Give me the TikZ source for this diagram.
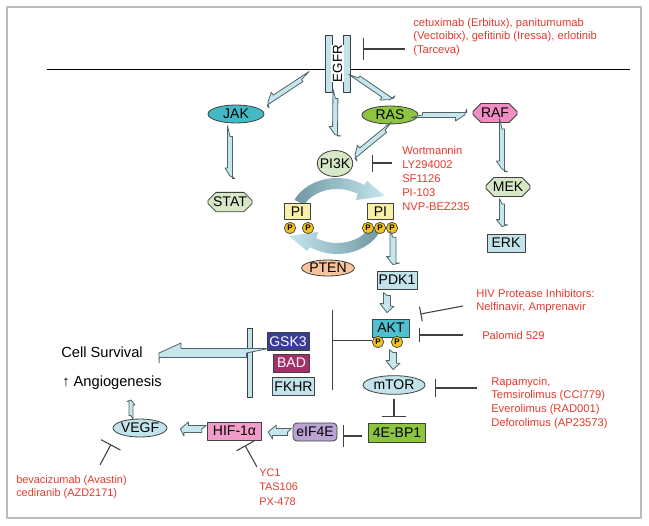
\documentclass[tikz,border=0pt]{standalone}
\usepackage{fontspec}
\setmainfont{Liberation Sans}
\usetikzlibrary{calc,shapes.geometric,shapes.misc,arrows.meta}

\definecolor{lightblue}{HTML}{C3E3EB}
\definecolor{arrowfill}{HTML}{C6E5EC}
\definecolor{arrowline}{HTML}{4F6469}
\definecolor{jakteal}{HTML}{43B9C6}
\definecolor{aktteal}{HTML}{4FC0D0}
\definecolor{palegreen}{HTML}{D6E8C6}
\definecolor{rasgreen}{HTML}{8DC540}
\definecolor{rafpink}{HTML}{F28DC3}
\definecolor{hifpink}{HTML}{F29CC9}
\definecolor{ptenorange}{HTML}{F6C59D}
\definecolor{eifpurple}{HTML}{BBA3D6}
\definecolor{gskblue}{HTML}{393B97}
\definecolor{badred}{HTML}{A53069}
\definecolor{piyellow}{HTML}{F8F0A6}
\definecolor{pyellow}{HTML}{F4C21A}
\definecolor{drugred}{HTML}{E23A2E}
\definecolor{cycdark}{HTML}{6F98A3}
\definecolor{cyclight}{HTML}{C6E6EE}
\definecolor{framegray}{HTML}{BBBBBB}

% holle blokpijl: van, naar, halve schachtbreedte, halve kopbreedte, koplengte
\newcommand{\blockarrow}[5]{%
  \filldraw[blockarr] let \p1=#1, \p2=#2,
      \n1={atan2(\y2-\y1,\x2-\x1)}, \n2={veclen(\x2-\x1,\y2-\y1)/0.75} in
    (\p1) -- ++({\n1+90}:#3) -- ++(\n1:{\n2-#5}) -- ++({\n1+90}:{#4-#3}) -- (\p2)
    -- ($(\p2)+({\n1+180}:#5)+({\n1-90}:#4)$) -- ++({\n1+90}:{#4-#3})
    -- ++({\n1+180}:{\n2-#5}) -- cycle;}

\begin{document}
\begin{tikzpicture}[x=0.75pt, y=0.75pt, line join=round,
    base/.style={draw=black!75, line width=0.6pt, inner sep=0pt, font=\fontsize{10.5}{12}\selectfont},
    oval/.style={base, ellipse},
    chamf/.style={base, chamfered rectangle, chamfered rectangle xsep=2.5pt},
    box/.style={base, rectangle},
    pball/.style={circle, draw=black!75, line width=0.5pt, fill=pyellow, minimum size=8.5pt,
      inner sep=0pt, font=\fontsize{6}{6}\selectfont\bfseries},
    drug/.style={text=drugred, align=left, anchor=west, inner sep=0pt, font=\fontsize{8.4}{10.4}\selectfont},
    inhib/.style={draw=black!75, line width=0.8pt, -{Bar[width=#1]}},
    inhib/.default=12pt,
    blockarr/.style={fill=arrowfill, draw=arrowline, line width=0.6pt}]

  % Kader en membraan
  \useasboundingbox (0,0) rectangle (649,-525);
  \draw[framegray, line width=0.8pt] (7,-7) rectangle (641,-518);
  \draw[line width=0.75pt] (47,-69) -- (630,-69);

  % Receptor
  \node[box, fill=lightblue, minimum width=5.25pt, minimum height=42.75pt] (egfrL) at (328.5,-63.5) {};
  \node[box, fill=lightblue, minimum width=5.25pt, minimum height=42.75pt] (egfrR) at (346.5,-63.5) {};
  \node[rotate=90, fill=white, inner xsep=0pt, inner ysep=1pt, font=\fontsize{10}{12}\selectfont] (egfr) at (337.5,-63.5) {EGFR};

  % Cyclus PI -> PIP3 (PI3K) en terug (PTEN)
  \coordinate (cyc) at (337,-216);
  \shade[left color=cycdark, right color=cyclight]
    ($(cyc)+(155:47 and 38)$) arc[start angle=155, end angle=55, x radius=47, y radius=38]
    -- ($(cyc)+(30,35)$) -- ($(cyc)+(48,20)$) -- ($(cyc)+(19,16)$)
    -- ($(cyc)+(55:36 and 27)$) arc[start angle=55, end angle=155, x radius=36, y radius=27] -- cycle;
  \shade[left color=cyclight, right color=cycdark]
    ($(cyc)+(-25:47 and 38)$) arc[start angle=-25, end angle=-125, x radius=47, y radius=38]
    -- ($(cyc)+(-30,-35)$) -- ($(cyc)+(-48,-20)$) -- ($(cyc)+(-19,-16)$)
    -- ($(cyc)+(-125:36 and 27)$) arc[start angle=-125, end angle=-25, x radius=36, y radius=27] -- cycle;

  % Eiwitten
  \node[oval, fill=jakteal, minimum width=42pt, minimum height=13.5pt] (jak) at (236,-114) {JAK};
  \node[chamf, fill=palegreen, minimum width=33pt, minimum height=12pt] (stat) at (230,-202) {STAT};
  \node[oval, fill=rasgreen, minimum width=42pt, minimum height=13.5pt] (ras) at (390,-115) {RAS};
  \node[chamf, fill=rafpink, minimum width=33pt, minimum height=13.5pt] (raf) at (495,-113) {RAF};
  \node[chamf, fill=palegreen, minimum width=33pt, minimum height=13.5pt] (mek) at (508,-187) {MEK};
  \node[box, fill=lightblue, minimum width=28.5pt, minimum height=13.5pt] (erk) at (506,-243) {ERK};
  \node[oval, fill=palegreen, minimum width=26pt, minimum height=19.5pt, inner xsep=-2pt] (pik) at (335,-163.5) {PI3K};
  \node[box, fill=piyellow, minimum width=19pt, minimum height=12pt] (pil) at (297.5,-211.5) {PI};
  \node[box, fill=piyellow, minimum width=19pt, minimum height=12pt] (pir) at (380.5,-211.5) {PI};
  \node[pball] (pl1) at (290,-228) {P};
  \node[pball] (pl2) at (308,-228) {P};
  \node[pball] (pr1) at (368,-228) {P};
  \node[pball] (pr2) at (380,-228) {P};
  \node[pball] (pr3) at (392,-228) {P};
  \node[oval, fill=ptenorange, minimum width=37.5pt, minimum height=12pt] (pten) at (328,-268) {PTEN};
  \node[box, fill=lightblue, minimum width=30pt, minimum height=13.5pt] (pdk) at (397,-280) {PDK1};
  \node[box, fill=aktteal, minimum width=28pt, minimum height=13.5pt] (akt) at (391,-328) {AKT};
  \node[pball] (ap1) at (378,-342) {P};
  \node[pball] (ap2) at (397,-342) {P};
  \node[oval, fill=lightblue, minimum width=46.5pt, minimum height=14pt] (mtor) at (394,-385) {mTOR};
  \node[box, fill=rasgreen, minimum width=43pt, minimum height=14pt] (bp) at (397,-433) {4E-BP1};
  \node[box, rounded corners=3pt, fill=eifpurple, minimum width=33pt, minimum height=13.5pt] (eif) at (315,-432) {eIF4E};
  \node[box, fill=hifpink, minimum width=41pt, minimum height=13.5pt] (hif) at (234.5,-431) {HIF-1α};
  \node[oval, fill=lightblue, minimum width=40.5pt, minimum height=13.5pt] (vegf) at (140,-428) {VEGF};
  \node[box, fill=gskblue, text=white, minimum width=31.5pt, minimum height=13.5pt] (gsk) at (288,-341.5) {GSK3};
  \node[box, fill=badred, text=white, minimum width=27pt, minimum height=13.5pt] (bad) at (291.5,-363) {BAD};
  \node[box, fill=lightblue, minimum width=32pt, minimum height=14pt] (fkhr) at (293.5,-386.5) {FKHR};
  \node[box, fill=lightblue, minimum width=3.75pt, minimum height=51.75pt] (survbar) at (249.5,-362.5) {};

  % Uitkomsten
  \node[anchor=west, inner sep=0pt, font=\fontsize{11}{13}\selectfont] (survival) at (61,-352) {Cell Survival};
  \node[anchor=west, inner sep=0pt, font=\fontsize{11}{13}\selectfont] (angio) at (62,-383) {↑ Angiogenesis};

  % Remmers (tekst)
  \node[drug] (egfrdrug) at (413,-37) {cetuximab (Erbitux), panitumumab\\(Vectoibix), gefitinib (Iressa), erlotinib\\(Tarceva)};
  \node[drug] (pidrug) at (402,-178.5) {Wortmannin\\LY294002\\SF1126\\PI-103\\NVP-BEZ235};
  \node[drug, font=\fontsize{8.4}{9.8}\selectfont] (hivdrug) at (476,-301.5) {HIV Protease Inhibitors:\\Nelfinavir, Amprenavir};
  \node[drug] (palomid) at (482,-335) {Palomid 529};
  \node[drug] (mtordrug) at (491,-403) {Rapamycin,\\Temsirolimus (CCI779)\\Everolimus (RAD001)\\Deforolimus (AP23573)};
  \node[drug, font=\fontsize{8.2}{10.8}\selectfont] (hifdrug) at (259,-487) {YC1\\TAS106\\PX-478};
  \node[drug, font=\fontsize{8.2}{9.5}\selectfont] (vegfdrug) at (16,-487) {bevacizumab (Avastin)\\cediranib (AZD2171)};

  % Activerende pijlen
  \blockarrow{($(egfrL.south west)+(-23,13)$)}{($(jak.north)+(32,3)$)}{2.5}{6}{8}
  \blockarrow{($(egfrL.south east)+(3,-6)$)}{($(pik.north)+(0,15.5)$)}{2.5}{6}{8}
  \blockarrow{($(egfrR.east)+(8,-14.5)$)}{($(ras.north)+(0,6)$)}{2.5}{6}{8}
  \blockarrow{($(jak.south)+(-6,-13)$)}{($(stat.north)+(0,16)$)}{2.5}{5}{8}
  \blockarrow{($(ras.east)+(4,0)$)}{($(raf.west)+(-8,-2)$)}{2.5}{6}{9}
  \blockarrow{($(raf.south)+(7,-6)$)}{($(mek.north)+(-6,8)$)}{2.5}{5.5}{8}
  \blockarrow{($(mek.south)+(-6,-7)$)}{($(erk.north)+(-4,7)$)}{2.5}{5.5}{7}
  \blockarrow{($(ras.south)+(-5,-6)$)}{($(pik.center)+(20,8.5)$)}{2.5}{6}{8}
  \blockarrow{($(pr3.south)+(1,-3.3)$)}{($(pdk.north)+(-4,6)$)}{3}{6.5}{8}
  \blockarrow{($(pdk.south)+(-10,-6)$)}{($(akt.north)+(-4,6)$)}{3.5}{7}{9}
  \blockarrow{($(akt.south)+(2,-15)$)}{($(mtor.north)+(-1,5.7)$)}{3.5}{7}{9}
  \blockarrow{($(eif.west)+(-5,0)$)}{($(hif.east)+(6,-1)$)}{3.5}{7}{8}
  \blockarrow{($(hif.west)+(-5,2)$)}{($(vegf.east)+(13,-1)$)}{3.5}{7}{8}
  \blockarrow{($(vegf.north)+(-9,3)$)}{($(angio.west)+(69,-17)$)}{2}{4}{5}
  \blockarrow{($(survbar.west)+(0,9.5)$)}{($(survival.east)+(16,-1)$)}{4.5}{10}{22}

  % Remmende verbindingen
  \draw[inhib=16.5pt] ($(egfrdrug.west)+(-8,-12)$) -- ($(egfrR.east)+(13,14.5)$);
  \draw[inhib=12.75pt] ($(pidrug.west)+(-10,15.5)$) -- ($(pik.center)+(37,0.5)$);
  \draw[inhib=11pt] ($(hivdrug.west)+(-13,-4.5)$) -- ($(akt.east)+(10.3,14)$);
  \draw[inhib=10.5pt] ($(palomid.west)+(-19,0)$) -- ($(akt.east)+(9.3,-7)$);
  \draw[inhib=13.5pt] ($(mtordrug.west)+(-14,15)$) -- ($(mtor.east)+(10,-3)$);
  \draw[inhib=18pt] ($(mtor.south)+(0,-4)$) -- ($(mtor.south)+(0,-22.7)$);
  \draw[inhib=16.5pt] ($(bp.west)+(-6.3,-3)$) -- ($(eif.east)+(6,-4)$);
  \draw[inhib=15pt] ($(hifdrug.west)+(-2,20)$) -- ($(hif.south)+(10.5,-5)$);
  \draw[inhib=16.5pt] ($(vegfdrug.west)+(84,22)$) -- ($(vegf.south)+(-29,-7)$);
  \draw[draw=black!75, line width=0.8pt] ($(akt.south west)+(0,-3)$) -- ++(-39,0) coordinate (aktT);
  \draw[draw=black!75, line width=0.8pt] ($(aktT)+(0,30)$) -- ($(aktT)+(0,-50)$);
\end{tikzpicture}
\end{document}
